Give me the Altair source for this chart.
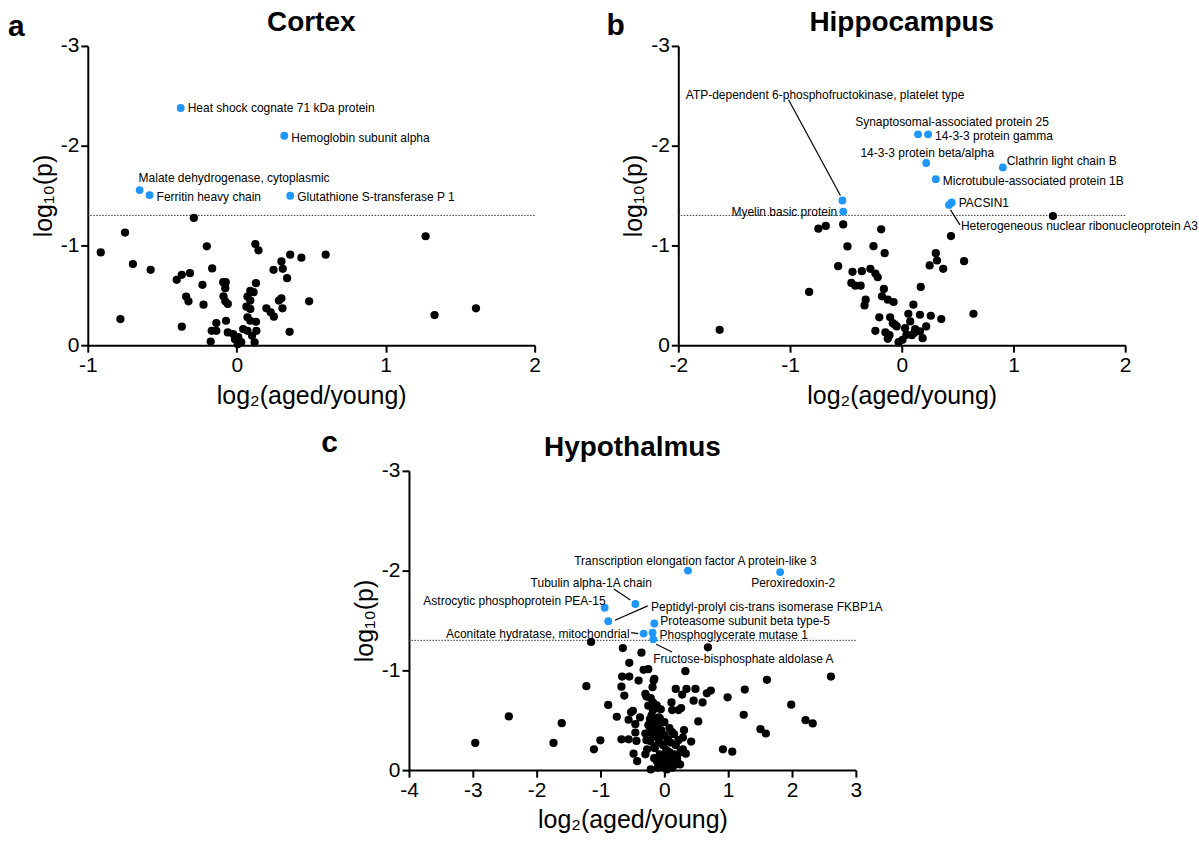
import altair as alt
import pandas as pd

FONT = "Liberation Sans"
BLUE = "#1E96FA"
W, H = 448, 300
THRESH = -1.30103
MINUS = "datum.value < 0 ? '-' + (-datum.value) : '' + datum.value"

# ---------------- Cortex ----------------
cortex_x = [
    -0.288, -0.750, -0.913, -0.697, -0.578, -0.781, -0.369, -0.314, -0.403, -0.201,
    -0.165, -0.230, -0.340, -0.324, -0.223, -0.369, -0.091, -0.074, -0.077, -0.089,
    -0.077, -0.060, -0.072, -0.137, -0.168, -0.137, -0.175, -0.060, -0.024, -0.012,
    0.007, 0.125, 0.146, 0.129, 0.091, 0.113, 0.072, 0.091, 0.065, 0.091,
    0.072, 0.091, 0.129, 0.043, 0.072, 0.132, 0.103, 0.120, 0.247, 0.300,
    0.309, 0.338, 0.359, 0.434, 0.597, 0.283, 0.300, 0.307, 0.199, 0.228,
    0.249, 0.355, 0.486, 1.268, 1.328, 1.606, 0.030, 0.010,
]
cortex_y = [
    -1.276, -1.129, -0.930, -0.813, -0.756, -0.262, -0.705, -0.722, -0.655, -0.991,
    -0.769, -0.605, -0.487, -0.440, -0.406, -0.185, -0.632, -0.632, -0.571, -0.490,
    -0.440, -0.413, -0.245, -0.222, -0.144, -0.144, -0.037, -0.128, -0.111, -0.060,
    -0.010, -1.014, -0.951, -0.621, -0.544, -0.531, -0.487, -0.447, -0.386, -0.363,
    -0.279, -0.245, -0.235, -0.161, -0.144, -0.144, -0.094, -0.027, -0.756, -0.840,
    -0.766, -0.672, -0.907, -0.877, -0.907, -0.447, -0.470, -0.369, -0.369, -0.329,
    -0.286, -0.134, -0.440, -1.092, -0.302, -0.369, -0.030, -0.080,
]
cortex_sig_names = [
    "Heat shock cognate 71 kDa protein",
    "Hemoglobin subunit alpha",
    "Malate dehydrogenase, cytoplasmic",
    "Ferritin heavy chain",
    "Glutathione S-transferase P 1",
]
cortex_sig_x = [-0.376, 0.319, -0.652, -0.585, 0.359]
cortex_sig_y = [-2.378, -2.100, -1.555, -1.505, -1.498]
cortex_label_style = [(7, 0, "left"), (7, 2, "left"), (-1, -12, "left"), (7, 2, "left"), (7, 1, "left")]
cortex_leaders = {}

# ---------------- Hippocampus ----------------
hippo_x = [
    1.353, -0.524, -0.680, -0.746, -0.184, 0.441, -0.486, -0.253, -0.153, 0.305,
    0.316, 0.250, 0.371, 0.558, -0.569, -0.441, -0.357, -0.281, -0.236, -0.215,
    -0.451, -0.416, -0.368, -0.829, -0.160, 0.170, -0.177, -0.125, -0.073, -0.323,
    -0.333, 0.104, -0.201, -0.104, -0.080, -0.045, -0.236, -0.146, -0.125, 0.059,
    0.163, 0.260, 0.354, 0.642, 0.076, 0.219, 0.163, 0.187, 0.042, 0.007,
    -0.028, -1.630, -0.062, 0.111, 0.030, 0.090, -0.110, 0.120,
]
hippo_y = [
    -1.295, -1.211, -1.195, -1.168, -1.161, -1.094, -0.990, -0.993, -0.923, -0.923,
    -0.849, -0.799, -0.765, -0.842, -0.792, -0.735, -0.742, -0.765, -0.718, -0.681,
    -0.624, -0.597, -0.597, -0.534, -0.564, -0.584, -0.490, -0.456, -0.433, -0.456,
    -0.399, -0.406, -0.279, -0.279, -0.221, -0.188, -0.144, -0.128, -0.064, -0.315,
    -0.305, -0.295, -0.262, -0.315, -0.238, -0.188, -0.138, -0.070, -0.104, -0.054,
    -0.030, -0.154, -0.205, -0.121, -0.170, -0.100, -0.100, -0.160,
]
hippo_sig_names = [
    "ATP-dependent 6-phosphofructokinase, platelet type",
    "Myelin basic protein",
    "Synaptosomal-associated protein 25",
    "14-3-3 protein gamma",
    "14-3-3 protein beta/alpha",
    "Clathrin light chain B",
    "Microtubule-associated protein 1B",
    "PACSIN1",
    "Heterogeneous nuclear ribonucleoprotein A3",
]
hippo_sig_x = [-0.531, -0.524, 0.146, 0.236, 0.219, 0.905, 0.305, 0.447, 0.423]
hippo_sig_y = [-1.450, -1.339, -2.114, -2.114, -1.826, -1.782, -1.664, -1.430, -1.406]
hippo_label_style = [
    (-157, -106, "left"), (-6, 0, "right"), (-63, -12, "left"), (7, 2, "left"),
    (-66, -10, "left"), (4, -6, "left"), (7, 2, "left"), (7, 0, "left"), (12, 21, "left"),
]
hippo_leaders = {
    "ATP-dependent 6-phosphofructokinase, platelet type": (-2, -5, -54, -101),
    "Heterogeneous nuclear ribonucleoprotein A3": (1.5, 5, 11, 20),
}

# ---------------- Hypothalmus ----------------
hypo_x = [
    -2.962, -2.436, -1.607, -1.736, -1.103, -1.002, -0.879, -1.221, -1.148, -0.745,
    -0.650, -0.549, -0.358, -0.325, -0.252, -0.661, -0.549, -0.403, -0.157, -0.672,
    -0.627, -0.297, -0.280, -0.185, -0.168, -0.213, -0.179, -0.252, -0.112, -0.056,
    -0.493, -0.521, -0.560, -0.454, -0.381, -0.224, -0.090, -0.224, -0.179, -0.101,
    -0.297, -0.454, -0.672, -0.560, -0.437, -0.185, -0.056, -0.224, -0.157, -0.269,
    -0.482, -0.297, -0.426, -0.213, -0.118, -0.073, -0.017, 0.039, -0.101, 0.067,
    0.123, 0.151, 0.190, 0.246, 0.336, 0.291, 0.420, 0.095, 0.056, 0.151,
    0.308, 0.291, 0.532, 0.112, 0.123, 0.263, 0.224, 0.179, 0.280, 0.330,
    0.347, 0.487, 0.459, 0.599, 0.666, 0.728, 0.683, 0.991, 1.260, 1.243,
    1.607, 0.918, 1.064, 1.506, 1.590, 1.988, 2.212, 2.324, 2.609, -0.200,
    -0.150, -0.100, -0.050, 0.000, 0.050, -0.120, -0.080, -0.020, 0.030, 0.080,
    -0.150, -0.050, 0.000, 0.100, -0.100, 0.050, 0.150, -0.030, 0.020, 0.120,
    0.180, 0.220, -0.220, -0.180, -0.120, -0.250, 0.200, 0.250, -0.070, 0.080,
    0.120, -0.280, 0.000, -0.160,
]
hypo_y = [
    -0.272, -0.538, -0.471, -0.272, -0.209, -0.299, -0.653, -0.841, -1.285, -0.535,
    -1.224, -1.076, -1.177, -1.006, -1.012, -0.938, -0.938, -0.898, -0.915, -0.837,
    -0.747, -0.764, -0.737, -0.831, -0.898, -0.723, -0.679, -0.646, -0.622, -0.609,
    -0.595, -0.579, -0.505, -0.461, -0.528, -0.511, -0.528, -0.461, -0.427, -0.394,
    -0.367, -0.377, -0.309, -0.309, -0.293, -0.360, -0.343, -0.293, -0.242, -0.209,
    -0.165, -0.158, -0.091, -0.007, -0.091, -0.158, -0.057, -0.007, -0.024, -0.091,
    -0.024, -0.158, -0.108, -0.057, -0.165, -0.209, -0.286, -0.276, -0.309, -0.360,
    -0.400, -0.326, -0.488, -0.679, -0.602, -0.622, -0.602, -0.814, -0.757, -0.992,
    -0.814, -0.814, -0.696, -0.679, -0.770, -0.797, -1.231, -0.730, -0.807, -0.555,
    -0.905, -0.209, -0.185, -0.410, -0.367, -0.656, -0.501, -0.468, -0.938, -0.550,
    -0.500, -0.450, -0.400, -0.350, -0.300, -0.330, -0.280, -0.250, -0.200, -0.180,
    -0.220, -0.150, -0.120, -0.100, -0.080, -0.060, -0.050, -0.030, -0.020, -0.140,
    -0.250, -0.300, -0.400, -0.600, -0.650, -0.450, -0.120, -0.180, -0.520, -0.420,
    -0.380, -0.300, -0.480, -0.120,
]
hypo_sig_names = [
    "Transcription elongation factor A protein-like 3",
    "Peroxiredoxin-2",
    "Tubulin alpha-1A chain",
    "Astrocytic phosphoprotein PEA-15",
    "Peptidyl-prolyl cis-trans isomerase FKBP1A",
    "Proteasome subunit beta type-5",
    "Aconitate hydratase, mitochondrial",
    "Phosphoglycerate mutase 1",
    "Fructose-bisphosphate aldolase A",
]
hypo_sig_x = [0.370, 1.814, -0.454, -0.935, -0.879, -0.157, -0.325, -0.185, -0.174]
hypo_sig_y = [-2.000, -1.985, -1.665, -1.628, -1.493, -1.470, -1.369, -1.379, -1.312]
hypo_label_style = [
    (-114, -10, "left"), (-29, 11, "left"), (-105, -21, "left"), (1, -7, "right"),
    (43, -14, "left"), (6, -2, "left"), (-14, 0, "right"), (7, 2, "left"), (0, 20, "left"),
]
hypo_leaders = {
    "Tubulin alpha-1A chain": (-5, -4, -21.5, -15),
    "Peptidyl-prolyl cis-trans isomerase FKBP1A": (6.8, -1, 39.6, -15.4),
    "Aconitate hydratase, mitochondrial": (-5.4, 0, -12.5, -1),
    "Fructose-bisphosphate aldolase A": (2.9, 5, 18.9, 12.8),
}


def panel(letter, letter_dx, letter_dy, title, xdom, xticks, bx, by,
          names, sx, sy, styles, leaders):
    xs = alt.Scale(domain=xdom, nice=False, zero=False)
    ys = alt.Scale(domain=[-3, 0], reverse=True, nice=False, zero=False)
    xax = alt.Axis(values=xticks, title="log₂(aged/young)", labelExpr=MINUS,
                   labelFlush=False, labelOverlap=False, grid=False, titlePadding=8)
    yax = alt.Axis(values=[-3, -2, -1, 0], title="log₁₀(p)", labelExpr=MINUS,
                   labelFlush=False, labelOverlap=False, grid=False, titlePadding=4)

    def X(f="x"):
        return alt.X(f"{f}:Q", scale=xs, axis=xax)

    def Y(f="y"):
        return alt.Y(f"{f}:Q", scale=ys, axis=yax)

    layers = []
    thr = alt.Chart(pd.DataFrame({"y": [THRESH]})).mark_rule(
        color="#333333", strokeWidth=1, strokeDash=[1.5, 1.5]).encode(y=Y())
    layers.append(thr)
    bg = alt.Chart(pd.DataFrame({"x": bx, "y": by})).mark_circle(
        size=68, color="black", opacity=1).encode(x=X(), y=Y())
    layers.append(bg)
    sig = alt.Chart(pd.DataFrame({"x": sx, "y": sy, "name": names})).mark_circle(
        size=62, color=BLUE, opacity=1).encode(x=X(), y=Y())
    layers.append(sig)

    kx = (xdom[1] - xdom[0]) / W
    ky = 3.0 / H
    for name, px, py, (dx, dy, al) in zip(names, sx, sy, styles):
        t = alt.Chart(pd.DataFrame({"x": [px], "y": [py], "t": [name]})).mark_text(
            align=al, baseline="middle", dx=dx, dy=dy, fontSize=12, font=FONT,
            color="black").encode(x=X(), y=Y(), text="t:N")
        layers.append(t)
        if name in leaders:
            a1, b1, a2, b2 = leaders[name]
            ld = pd.DataFrame({"x": [px + a1 * kx], "y": [py + b1 * ky],
                               "x2": [px + a2 * kx], "y2": [py + b2 * ky]})
            r = alt.Chart(ld).mark_rule(color="black", strokeWidth=1.2).encode(
                x=X(), y=Y(), x2="x2:Q", y2="y2:Q")
            layers.append(r)

    ttl = alt.Chart(pd.DataFrame({"t": [title]})).mark_text(
        align="center", baseline="alphabetic", fontSize=28, fontWeight="bold",
        font=FONT, color="black").encode(x=alt.value(W / 2), y=alt.value(-15), text="t:N")
    lab = alt.Chart(pd.DataFrame({"t": [letter]})).mark_text(
        align="left", baseline="alphabetic", fontSize=30, fontWeight="bold",
        font=FONT, color="black").encode(x=alt.value(letter_dx), y=alt.value(letter_dy), text="t:N")
    layers += [ttl, lab]
    return alt.layer(*layers).properties(width=W, height=H)


pa = panel("a", -80, -10, "Cortex", [-1, 2], [-1, 0, 1, 2], cortex_x, cortex_y,
           cortex_sig_names, cortex_sig_x, cortex_sig_y, cortex_label_style, cortex_leaders)
pb = panel("b", -72, -11, "Hippocampus", [-2, 2], [-2, -1, 0, 1, 2], hippo_x, hippo_y,
           hippo_sig_names, hippo_sig_x, hippo_sig_y, hippo_label_style, hippo_leaders)
pc = panel("c", -88, -19, "Hypothalmus", [-4, 3], [-4, -3, -2, -1, 0, 1, 2, 3], hypo_x, hypo_y,
           hypo_sig_names, hypo_sig_x, hypo_sig_y, hypo_label_style, hypo_leaders)

spacer = alt.Chart(pd.DataFrame({"v": [0]})).mark_point(opacity=0, size=1).encode(
    x=alt.X("v:Q", axis=None, scale=alt.Scale(domain=[0, 1])),
    y=alt.Y("v:Q", axis=None, scale=alt.Scale(domain=[0, 1])),
).properties(width=234, height=1)

row1 = alt.hconcat(pa, pb, spacing=66)
row2 = alt.hconcat(spacer, pc, spacing=0)

chart = alt.vconcat(row1, row2, spacing=20).properties(
    padding={"left": 8, "top": 8, "right": 0, "bottom": 0},
    background="white",
).configure_view(stroke=None).configure_axis(
    domainColor="black", domainWidth=2, tickColor="black", tickWidth=2, tickSize=7,
    labelFontSize=21, labelColor="black", labelFont=FONT, labelPadding=2,
    titleFont=FONT, titleFontSize=25, titleFontWeight="normal", titleColor="black",
).configure_text(font=FONT)

chart.save("out.html", embed_options={"renderer": "svg", "actions": False})
